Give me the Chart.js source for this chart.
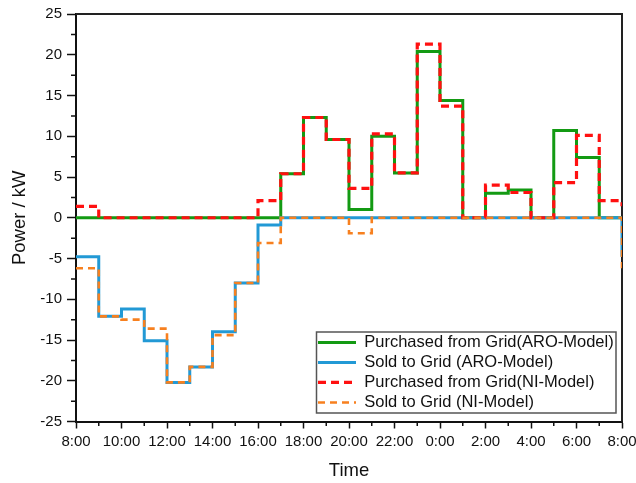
<!DOCTYPE html>
<html>
<head>
<meta charset="utf-8">
<script src="https://cdn.jsdelivr.net/npm/chart.js@4.4.0/dist/chart.umd.min.js"></script>
<style>
  html, body { margin: 0; padding: 0; background: #ffffff; }
  canvas { display: block; }
</style>
</head>
<body>
<canvas id="chart" width="636" height="483"></canvas>
<script>
// ---- data (hourly slots, 8:00 .. 7:00, plus the next day's 8:00 value) ----
const hourSlots = ['8:00','9:00','10:00','11:00','12:00','13:00','14:00','15:00','16:00','17:00',
  '18:00','19:00','20:00','21:00','22:00','23:00','0:00','1:00','2:00','3:00','4:00','5:00','6:00','7:00','8:00'];
const timeTickLabels = ['8:00','10:00','12:00','14:00','16:00','18:00','20:00','22:00','0:00','2:00','4:00','6:00','8:00'];
const purchasedARO = [0, 0, 0, 0, 0, 0, 0, 0, 0, 5.4, 12.3, 9.6, 1.0, 10.0, 5.5, 20.4, 14.4, 0, 3.0, 3.4, 0, 10.7, 7.4, 0, 0];
const soldARO      = [-4.8, -12.1, -11.2, -15.1, -20.2, -18.3, -14.0, -8.0, -0.9, 0, 0, 0, 0, 0, 0, 0, 0, 0, 0, 0, 0, 0, 0, 0, -4.8];
const purchasedNI  = [1.4, 0, 0, 0, 0, 0, 0, 0, 2.1, 5.4, 12.3, 9.6, 3.6, 10.3, 5.5, 21.3, 13.7, 0, 4.0, 3.1, 0, 4.3, 10.1, 2.1, 1.4];
const soldNI       = [-6.2, -12.1, -12.5, -13.6, -20.2, -18.3, -14.4, -8.0, -3.1, 0, 0, 0, -1.9, 0, 0, 0, 0, 0, 0, 0, 0, 0, 0, 0, -6.2];
const seriesLabels = ['Purchased from Grid(ARO-Model)', 'Sold to Grid (ARO-Model)', 'Purchased from Grid(NI-Model)', 'Sold to Grid (NI-Model)'];
const yTickValues = [-25, -20, -15, -10, -5, 0, 5, 10, 15, 20, 25];

const FONT = "'Liberation Sans', Arial, sans-serif";
const toPoints = arr => arr.map((v, i) => ({ x: i, y: v }));

// minor ticks, top/right frame and legend frame
const decorPlugin = {
  id: 'decor',
  beforeDraw(chart) {
    const lg = chart.legend, ca = chart.chartArea;
    if (!lg) return;
    const frameRight = ca.right - 6, frameBottom = ca.bottom - 8.5;
    const frameTop = frameBottom - 81, frameLeft = frameRight - 299.5;
    chart.$legendFrame = { l: frameLeft, t: frameTop, r: frameRight, b: frameBottom };
    const pad = lg.options.labels.padding;
    lg.left = frameLeft + 1.5 - pad;
    lg.top = frameTop + 2.2 - pad;
    lg.right = frameRight;
    lg.bottom = frameTop + 400;
    lg.width = lg.right - lg.left;
    lg.height = lg.bottom - lg.top;
  },
  beforeDatasetsDraw(chart) {
    const ctx = chart.ctx, ca = chart.chartArea;
    const xs = chart.scales.x, ys = chart.scales.y;
    ctx.save();
    ctx.strokeStyle = '#111';
    ctx.lineWidth = 1.5;
    ctx.beginPath();
    for (let i = 0; i < yTickValues.length - 1; i++) {
      const y = ys.getPixelForValue((yTickValues[i] + yTickValues[i + 1]) / 2);
      ctx.moveTo(ca.left - 5, y); ctx.lineTo(ca.left, y);
    }
    for (let i = 1; i < hourSlots.length - 1; i += 2) {
      const x = xs.getPixelForValue(i);
      ctx.moveTo(x, ca.bottom); ctx.lineTo(x, ca.bottom + 4.5);
    }
    ctx.stroke();
    // top + right frame
    ctx.strokeStyle = '#222';
    ctx.lineWidth = 2;
    ctx.beginPath();
    ctx.moveTo(ca.left, ca.top);
    ctx.lineTo(ca.right, ca.top);
    ctx.lineTo(ca.right, ca.bottom);
    ctx.stroke();
    // legend frame
    const f = chart.$legendFrame;
    if (f) {
      ctx.strokeStyle = '#555';
      ctx.lineWidth = 1.5;
      ctx.strokeRect(f.l, f.t, f.r - f.l, f.b - f.t);
    }
    ctx.restore();
  }
};

const dsCommon = { stepped: true, pointRadius: 0, pointHoverRadius: 0, fill: false, tension: 0, borderCapStyle: 'butt', borderJoinStyle: 'miter' };

new Chart(document.getElementById('chart'), {
  type: 'line',
  data: {
    datasets: [
      { ...dsCommon, label: seriesLabels[0], data: toPoints(purchasedARO), borderColor: '#139a13', backgroundColor: '#139a13', borderWidth: 3, order: 3 },
      { ...dsCommon, label: seriesLabels[1], data: toPoints(soldARO), borderColor: '#2299d5', backgroundColor: '#2299d5', borderWidth: 3, order: 2 },
      { ...dsCommon, label: seriesLabels[2], data: toPoints(purchasedNI), borderColor: '#ff1010', backgroundColor: '#ff1010', borderWidth: 3.2, borderDash: [8, 5], order: 1 },
      { ...dsCommon, label: seriesLabels[3], data: toPoints(soldNI), borderColor: '#f7801f', backgroundColor: '#f7801f', borderWidth: 2.6, borderDash: [7, 5], order: 0 }
    ]
  },
  options: {
    responsive: false,
    animation: false,
    devicePixelRatio: 1,
    layout: { padding: { top: 14, right: 14, left: 0, bottom: 0 } },
    plugins: {
      tooltip: { enabled: false },
      legend: {
        display: true,
        position: 'chartArea',
        align: 'start',
        labels: {
          usePointStyle: true,
          pointStyle: 'line',
          pointStyleWidth: 38,
          padding: 3.5,
          color: '#111',
          font: { family: FONT, size: 16.5 },
          generateLabels(chart) {
            return chart.data.datasets.map((ds, i) => ({
              text: ds.label,
              strokeStyle: ds.borderColor,
              fillStyle: ds.borderColor,
              lineWidth: ds.borderWidth,
              lineDash: ds.borderDash || [],
              lineCap: 'butt',
              pointStyle: 'line',
              hidden: false,
              fontColor: '#111',
              datasetIndex: i
            }));
          }
        }
      }
    },
    scales: {
      x: {
        type: 'linear',
        min: 0,
        max: hourSlots.length - 1,
        afterFit(scale) { scale.height = 61.5; scale.paddingRight = 0; scale.paddingLeft = 0; },
        afterBuildTicks(scale) { scale.ticks = timeTickLabels.map((_, i) => ({ value: i * 2 })); },
        ticks: {
          autoSkip: false,
          maxRotation: 0,
          padding: 4,
          color: '#111',
          font: { family: FONT, size: 15 },
          callback: (v) => timeTickLabels[Math.round(v / 2)]
        },
        grid: { drawOnChartArea: false, drawTicks: true, tickLength: 7, tickColor: '#111', tickWidth: 1.5 },
        border: { display: true, color: '#111', width: 2 },
        title: { display: true, text: 'Time', color: '#111', font: { family: FONT, size: 18.5 }, padding: { top: 0, bottom: 1 } }
      },
      y: {
        type: 'linear',
        min: -25,
        max: 25,
        afterFit(scale) { scale.width = 76; },
        afterBuildTicks(scale) { scale.ticks = yTickValues.map(v => ({ value: v })); },
        ticks: {
          padding: 5,
          color: '#111',
          font: { family: FONT, size: 15 },
          callback: (v) => String(v)
        },
        grid: { drawOnChartArea: false, drawTicks: true, tickLength: 9, tickColor: '#111', tickWidth: 1.5 },
        border: { display: true, color: '#111', width: 2 },
        title: { display: true, text: 'Power / kW', color: '#111', font: { family: FONT, size: 18.5 }, padding: { top: 9, bottom: 0 } }
      }
    }
  },
  plugins: [decorPlugin]
});
</script>
</body>
</html>
